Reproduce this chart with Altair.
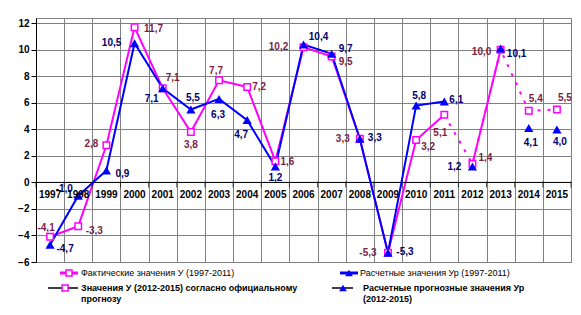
import altair as alt
import pandas as pd

# ---------------- data ----------------
years = list(range(1997, 2016))
fact_years = list(range(1997, 2012))
fact_vals = [-4.1, -3.3, 2.8, 11.7, 7.1, 3.8, 7.7, 7.2, 1.6, 10.2, 9.5, 3.3, -5.3, 3.2, 5.1]
calc_vals = [-4.7, -1.0, 0.9, 10.5, 7.1, 5.5, 6.3, 4.7, 1.2, 10.4, 9.7, 3.3, -5.3, 5.8, 6.1]
fc_years = [2012, 2013, 2014, 2015]
fc_fact = [1.4, 10.0, 5.4, 5.5]
fc_calc = [1.2, 10.1, 4.1, 4.0]
y_ticks = [-6, -4, -2, 0, 2, 4, 6, 8, 10, 12]

legend_texts = [
    "Фактические значения У (1997-2011)",
    "Расчетные значения Ур (1997-2011)",
    ["Значения У (2012-2015) согласно официальному", "прогнозу"],
    ["Расчетные прогнозные значения Ур", "(2012-2015)"],
]

# ---------------- label offsets (pixels, styling) ----------------
fact_dx = [-4, 16, -15, 19, 10, 0, -3, 12, 12, -25, 14, -17, -20, 12, -4]
fact_dy = [-9, 5, -1, 2, -10, 13, -9, 0, 1, 0, 6, 0, 0, 7, 18]
calc_dx = [15, -14, 16, -23, -11, 2, -1, -6, 0, 15, 14, 15, 17, 3, 12]
calc_dy = [4, -7, 3, 0, 11, -12, 16, 15, 11, -8, -5, -1, -1, -10, -2]
fc_fact_dx = [13, -19, 7, 8]
fc_fact_dy = [-6, 2, -12, -12]
fc_calc_dx = [-18, 16, 2, 3]
fc_calc_dy = [0, 5, 15, 13]

PINK = "#FF00FF"
BLUE = "#0000FF"
PINK_LBL = "#7A1E46"
BLUE_LBL = "#00006E"
FONT = "Liberation Sans"

W, H = 535, 244
X_DOM = [years[0] - 0.5, years[-1] + 0.5]
Y_DOM = [-6, 12.4]
PX_X = W / (X_DOM[1] - X_DOM[0])   # pixels per year
PX_Y = H / (Y_DOM[1] - Y_DOM[0])   # pixels per unit


def fmt(v):
    return f"{v:.1f}".replace(".", ",")


def frame(ys, vs, dx=None, dy=None):
    d = pd.DataFrame({"year": ys, "value": vs})
    d["label"] = [fmt(v) for v in vs]
    if dx is not None:
        d["dx"] = dx
        d["dy"] = dy
    return d


fact_df = frame(fact_years, fact_vals, fact_dx, fact_dy)
calc_df = frame(fact_years, calc_vals, calc_dx, calc_dy)
fcf_df = frame(fc_years, fc_fact, fc_fact_dx, fc_fact_dy)
fcc_df = frame(fc_years, fc_calc, fc_calc_dx, fc_calc_dy)
dash_df = frame([fact_years[-1]] + fc_years, [fact_vals[-1]] + fc_fact)
solid_fc_df = frame(fc_years[:2], fc_fact[:2])
years_df = pd.DataFrame({"year": years, "label": [str(y) for y in years]})
one = pd.DataFrame({"k": [0]})

boundaries = [y - 0.5 for y in years] + [years[-1] + 0.5]

xscale = alt.Scale(domain=X_DOM, nice=False, zero=False)
yscale = alt.Scale(domain=Y_DOM, nice=False, zero=False)

XAXIS = alt.Axis(values=boundaries, labels=False, ticks=False, domain=False,
                 grid=True, gridColor="#808080", gridOpacity=1, gridWidth=1, title=None)
YAXIS = alt.Axis(values=y_ticks, grid=True, gridColor="#808080", gridOpacity=1, gridWidth=1,
                 domainColor="black", tickColor="black", tickSize=5, labelFont=FONT,
                 labelFontSize=10, labelFontWeight="bold", labelColor="black",
                 labelPadding=2, labelOverlap=False, labelFlush=False, title=None)


def xenc(field):
    return alt.X(field, scale=xscale, axis=XAXIS, title=None)


def yenc(field):
    return alt.Y(field, scale=yscale, axis=YAXIS, title=None)


Xs = xenc("year:Q")
Ys = yenc("value:Q")
Y0 = alt.Y(datum=0, scale=yscale, axis=YAXIS, title=None)

base_fact = alt.Chart(fact_df).mark_line(color=PINK, strokeWidth=2).encode(x=Xs, y=Ys)
zero_rule = alt.Chart(one).mark_rule(color="black", strokeWidth=1).encode(y=Y0)

dash_line = alt.Chart(dash_df).mark_line(color=PINK, strokeWidth=2, strokeDash=[3, 7]).encode(x=Xs, y=Ys)
solid_fc = alt.Chart(solid_fc_df).mark_line(color=PINK, strokeWidth=2).encode(x=Xs, y=Ys)
calc_line = alt.Chart(calc_df).mark_line(color=BLUE, strokeWidth=2).encode(x=Xs, y=Ys)


def squares(df):
    return alt.Chart(df).mark_point(shape="square", filled=True, fill="white", stroke=PINK,
                                    strokeWidth=1.5, size=42, opacity=1).encode(x=Xs, y=Ys)


def triangles(df):
    return alt.Chart(df).mark_point(shape="triangle-up", filled=True, color=BLUE,
                                    size=85, opacity=1).encode(x=Xs, y=Ys)


def labels(df, color):
    return alt.Chart(df).transform_calculate(
        lx=f"datum.year + datum.dx / {PX_X}",
        ly=f"datum.value - datum.dy / {PX_Y}",
    ).mark_text(font=FONT, fontSize=10, fontWeight="bold", color=color,
                align="center", baseline="middle").encode(
        x=xenc("lx:Q"), y=yenc("ly:Q"), text="label:N",
    )


year_labels = alt.Chart(years_df).mark_text(
    font=FONT, fontSize=10, fontWeight="bold", color="black", align="center",
    baseline="middle", dy=13).encode(x=Xs, y=Y0, text="label:N")

# small tick marks under the zero line at category boundaries
tick_df = pd.DataFrame({"year": boundaries})
zero_ticks = alt.Chart(tick_df).mark_tick(color="black", thickness=1, size=6, orient="vertical",
                                          yOffset=2).encode(x=Xs, y=Y0)


# ---------------- manual legend (layout, below plot) ----------------
def leg_line(x1, x2, y, color, width=2):
    return alt.Chart(one).mark_rule(color=color, strokeWidth=width).encode(
        x=alt.value(x1), x2=alt.value(x2), y=alt.value(y))


def leg_sq(x, y):
    return alt.Chart(one).mark_point(shape="square", filled=True, fill="white", stroke=PINK,
                                     strokeWidth=1.5, size=36, opacity=1).encode(
        x=alt.value(x), y=alt.value(y))


def leg_tri(x, y):
    return alt.Chart(one).mark_point(shape="triangle-up", filled=True, color=BLUE,
                                     size=60, opacity=1).encode(x=alt.value(x), y=alt.value(y))


def leg_text(x, y, txt, bold):
    return alt.Chart(one).mark_text(font=FONT, fontSize=9, fontWeight="bold" if bold else "normal",
                                    color="black", align="left", baseline="middle",
                                    lineHeight=11).encode(
        x=alt.value(x), y=alt.value(y), text=alt.value(txt))


legend = [
    leg_line(24, 42, 255, PINK, 3), leg_sq(33, 255), leg_text(45, 255, legend_texts[0], False),
    leg_line(304, 322, 255, BLUE, 3), leg_tri(313, 255), leg_text(324, 255, legend_texts[1], False),
    leg_line(12, 42, 270, "black", 1.5), leg_sq(29, 270), leg_text(45, 270, legend_texts[2], True),
    leg_line(296, 317, 270, "black", 1.5), leg_tri(307, 270), leg_text(327, 270, legend_texts[3], True),
]

chart = alt.layer(
    base_fact, zero_rule, zero_ticks, dash_line, solid_fc, calc_line,
    squares(fact_df), squares(fcf_df), triangles(calc_df), triangles(fcc_df),
    labels(fact_df, PINK_LBL), labels(calc_df, BLUE_LBL),
    labels(fcf_df, PINK_LBL), labels(fcc_df, BLUE_LBL),
    year_labels, *legend,
).properties(
    width=W, height=H,
    autosize=alt.AutoSizeParams(type="none"),
    padding={"left": 28, "top": 10, "right": 2, "bottom": 44},
    background="white",
).configure_view(stroke="#808080", strokeWidth=1)

chart.save("out.html", embed_options={"renderer": "svg", "actions": False})
